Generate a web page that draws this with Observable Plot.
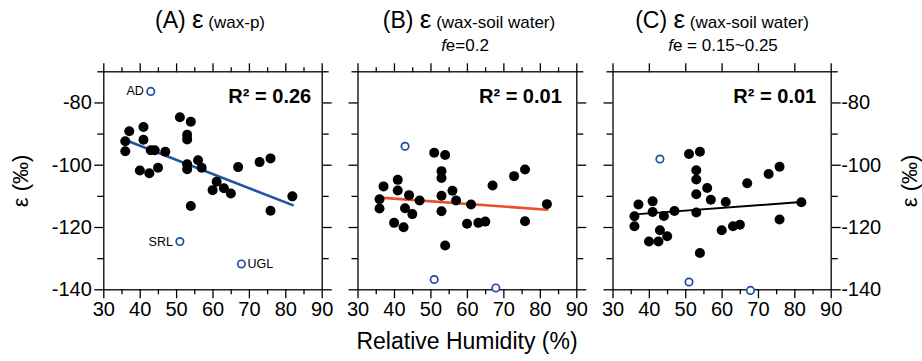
<!DOCTYPE html>
<html><head><meta charset="utf-8">
<script src="https://cdn.jsdelivr.net/npm/d3@7"></script>
<script src="https://cdn.jsdelivr.net/npm/@observablehq/plot@0.6"></script>
<style>
body{margin:0;background:#fff;}
#chart{position:relative;width:922px;height:361px;font-family:"Liberation Sans",Arial,Helvetica,sans-serif;color:#000;}
#chart svg{position:absolute;left:0;top:0;}
</style></head><body><div id="chart"></div>
<script>
// Relative humidity (%) of the sites (filled points)
const rh = [35.9, 35.9, 37.0, 40.9, 40.9, 39.9, 42.5, 42.9, 44.0, 44.9, 46.9, 50.9, 53.9, 52.9, 52.9, 52.9, 52.9, 53.9, 55.9, 56.9, 61.0, 59.9, 63.0, 64.9, 66.9, 72.8, 75.8, 75.8, 81.8];
// (A) ε wax-p (‰)
const epsWaxP = [-92.3, -95.5, -89.1, -87.7, -91.8, -101.7, -102.6, -95.2, -95.2, -100.8, -95.7, -84.6, -86.0, -90.2, -91.7, -99.7, -101.3, -113.1, -98.4, -100.8, -105.3, -108.0, -107.4, -109.1, -100.6, -99.0, -97.8, -114.6, -110.0];
// (B) ε wax-soil water, fe = 0.2 (‰)
const epsSoilB = [-110.9, -113.9, -106.8, -104.7, -108.1, -118.5, -119.9, -113.8, -109.6, -115.7, -111.3, -96.0, -96.7, -101.9, -104.1, -109.8, -114.8, -125.8, -108.2, -111.3, -112.6, -118.8, -118.5, -118.1, -106.5, -103.5, -101.4, -118.0, -112.5];
// (C) ε wax-soil water, fe = 0.15~0.25 (‰)
const epsSoilC = [-116.4, -119.6, -112.6, -111.6, -115.0, -124.5, -124.5, -120.9, -116.3, -122.8, -114.7, -96.4, -95.7, -101.6, -104.6, -109.3, -115.2, -128.2, -107.3, -111.1, -111.8, -120.9, -119.6, -119.1, -105.8, -102.8, -100.5, -117.4, -111.9];
// Outlier sites (open circles)
const outLabels = ["AD", "SRL", "UGL"];
const rhOut = [42.9, 50.9, 67.8];
const outA = [-76.3, -124.5, -131.7];
const outB = [-93.9, -136.7, -139.4];
const outC = [-98.0, -137.5, -140.2];
// Regression lines (end points)
const fitRhA = [35.9, 81.9], fitEpsA = [-91.9, -112.8];
const fitRhB = [36.0, 81.9], fitEpsB = [-110.4, -114.3];
const fitRhC = [37.0, 81.7], fitEpsC = [-115.7, -111.8];
const r2Labels = ["R² = 0.26", "R² = 0.01", "R² = 0.01"];
// Ticks
const xMajor = [30, 40, 50, 60, 70, 80, 90];
const xMinor = [35, 45, 55, 65, 75, 85];
const yMajor = [-80, -100, -120, -140];
const yMinor = [-70, -90, -110, -130];

const W = 922, H = 361, TOP = 71.3, BOTTOM = 289.3;
const FONT = "Liberation Sans, Arial, Helvetica, sans-serif";
const blank = () => "";
const TW = 1.3;

function panel(o) {
  const rows = rh.map((x, i) => ({x, y: o.eps[i]}));
  const outRows = rhOut.map((x, i) => ({x, y: o.out[i], label: outLabels[i]}));
  const fitRows = o.fitX.map((x, i) => ({x, y: o.fitY[i]}));
  const marks = [
    Plot.frame({stroke: "black", strokeWidth: TW}),
    Plot.axisX(xMajor, {anchor: "bottom", tickSize: 9, tickPadding: 3, fontSize: 20, strokeWidth: TW, tickFormat: d => String(d), label: null}),
    Plot.axisX(xMinor, {anchor: "bottom", tickSize: 5, strokeWidth: TW, tickFormat: blank, label: null}),
    Plot.axisX(xMajor, {anchor: "top", tickSize: 9, strokeWidth: TW, tickFormat: blank, label: null}),
    Plot.axisY(yMajor, {anchor: "left", tickSize: 9, tickPadding: 3, fontSize: 20, strokeWidth: TW, tickFormat: o.left ? (d => String(d)) : blank, label: null}),
    Plot.axisY(yMinor, {anchor: "left", tickSize: 6, strokeWidth: TW, tickFormat: blank, label: null}),
    Plot.axisY(yMajor, {anchor: "right", tickSize: 9, tickPadding: 1, fontSize: 20, strokeWidth: TW, tickFormat: o.right ? (d => String(d)) : blank, label: null}),
    Plot.axisY(yMinor, {anchor: "right", tickSize: 6, strokeWidth: TW, tickFormat: blank, label: null}),
    Plot.line(fitRows, {x: "x", y: "y", stroke: o.fitColor, strokeWidth: o.fitWidth}),
    Plot.dot(rows, {x: "x", y: "y", r: 5, fill: "black"}),
    Plot.dot(outRows, {x: "x", y: "y", r: 3.7, fill: "white", stroke: "#1f4e9c", strokeWidth: 1.7}),
    Plot.text([o.r2], {frameAnchor: "top-right", textAnchor: "end", lineAnchor: "middle", dx: o.r2dx, dy: 25, fontSize: 20, fontWeight: "bold"})
  ];
  if (o.topMinor) marks.push(Plot.axisX(xMinor, {anchor: "top", tickSize: 5, strokeWidth: TW, tickFormat: blank, label: null}));
  if (o.labels) {
    marks.push(Plot.text(outRows.filter(d => d.label !== "UGL"), {x: "x", y: "y", text: "label", textAnchor: "end", dx: -7, fontSize: 12.5}));
    marks.push(Plot.text(outRows.filter(d => d.label === "UGL"), {x: "x", y: "y", text: "label", textAnchor: "start", dx: 6, fontSize: 12.5}));
  }
  return Plot.plot({
    width: W, height: H,
    marginLeft: o.L, marginRight: W - o.R, marginTop: TOP, marginBottom: H - BOTTOM,
    x: {domain: [30, 90]},
    y: {domain: [-140, -70]},
    style: {background: "transparent", fontFamily: FONT, overflow: "visible"},
    marks
  });
}

const chart = document.getElementById("chart");
chart.append(panel({L: 103.3, R: 321.7, eps: epsWaxP, out: outA, fitX: fitRhA, fitY: fitEpsA, fitColor: "#2152a3", fitWidth: 2.6, r2: r2Labels[0], r2dx: -11, left: true, right: false, topMinor: true, labels: true}));
chart.append(panel({L: 357.5, R: 576.3, eps: epsSoilB, out: outB, fitX: fitRhB, fitY: fitEpsB, fitColor: "#ea4f2c", fitWidth: 2.6, r2: r2Labels[1], r2dx: -15, left: false, right: false, topMinor: true, labels: false}));
chart.append(panel({L: 612.5, R: 830.7, eps: epsSoilC, out: outC, fitX: fitRhC, fitY: fitEpsC, fitColor: "#000", fitWidth: 2.0, r2: r2Labels[2], r2dx: -15, left: false, right: true, topMinor: false, labels: false}));

// Titles and axis titles
const ov = d3.select(chart).append("svg").attr("width", W).attr("height", H)
  .style("font-family", FONT).attr("fill", "black");
function title(cx, parts, y) {
  const t = ov.append("text").attr("x", cx).attr("y", y).attr("text-anchor", "middle");
  for (const p of parts) {
    const s = t.append("tspan").attr("font-size", p.size).text(p.text);
    if (p.italic) s.attr("font-style", "italic");
  }
}
title(210, [{text: "(A) ", size: 23}, {text: "ε", size: 26}, {text: " (wax-p)", size: 17}], 28);
title(469, [{text: "(B) ", size: 23}, {text: "ε", size: 26}, {text: " (wax-soil water)", size: 17}], 28);
title(722, [{text: "(C) ", size: 23}, {text: "ε", size: 26}, {text: " (wax-soil water)", size: 17}], 28);
title(465, [{text: "f", size: 17, italic: true}, {text: "e=0.2", size: 17}], 51);
title(723, [{text: "f", size: 17, italic: true}, {text: "e = 0.15~0.25", size: 17}], 51);
ov.append("text").attr("x", 467).attr("y", 349).attr("text-anchor", "middle").attr("font-size", 23).text("Relative Humidity (%)");
ov.append("text").attr("transform", "translate(28,181) rotate(-90)").attr("text-anchor", "middle").attr("font-size", 22).text("ε (‰)");
ov.append("text").attr("transform", "translate(917,181) rotate(-90)").attr("text-anchor", "middle").attr("font-size", 22).text("ε (‰)");
</script></body></html>
